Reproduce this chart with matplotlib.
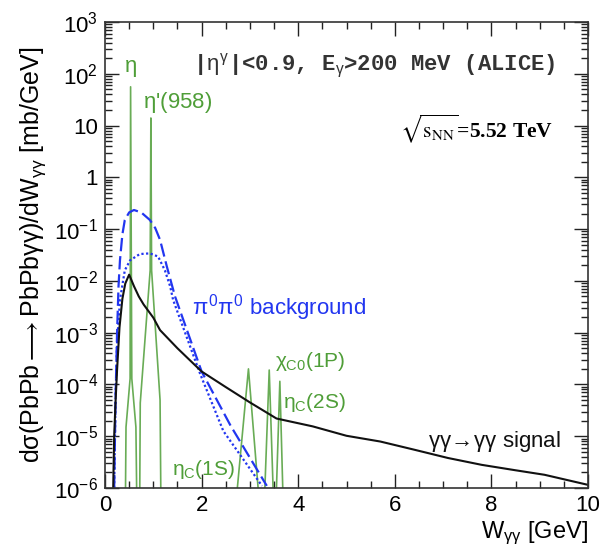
import numpy as np
import matplotlib
matplotlib.use('Agg')
import matplotlib.pyplot as plt
from matplotlib.ticker import FixedLocator, FixedFormatter, MultipleLocator, LogLocator, NullFormatter

# gamma gamma -> gamma gamma signal (black)
signal_w = [0.17, 0.19, 0.22, 0.25, 0.3, 0.36, 0.42, 0.5, 0.6, 0.7, 0.8, 1.0, 1.14, 1.5, 2.0, 2.5,
            3.0, 3.55, 4.3, 5.0, 5.7, 6.4, 7.1, 7.8, 8.5, 9.1, 10.0]
signal_y = [1e-6, 1e-5, 5e-5, 1.9e-4, 1.26e-3, 4.5e-3, 8.9e-3, 1.32e-2, 7.9e-3, 5.0e-3, 3.5e-3,
            1.95e-3, 1.12e-3, 5.0e-4, 1.78e-4, 8.9e-5, 4.5e-5, 2.2e-5, 1.55e-5, 1.02e-5, 7.9e-6,
            5.5e-6, 3.8e-6, 2.8e-6, 2.2e-6, 1.8e-6, 1.15e-6]

# pi0 pi0 background, dashed and dotted
bkg_dash_w = [0.19, 0.22, 0.25, 0.28, 0.31, 0.36, 0.41, 0.5, 0.6, 0.75, 0.93, 1.04, 1.14, 1.28,
              1.45, 2.0, 2.6, 3.35]
bkg_dash_y = [1e-6, 6.3e-5, 1e-3, 7.9e-3, 2.5e-2, 7.9e-2, 0.15, 0.21, 0.234, 0.21, 0.15, 0.105,
              0.062, 0.019, 5.0e-3, 1.78e-4, 1.6e-5, 1.1e-6]
bkg_dot_w = [0.19, 0.22, 0.25, 0.31, 0.41, 0.52, 0.72, 0.93, 1.10, 1.24, 1.35, 1.41, 1.97, 2.45, 3.25]
bkg_dot_y = [1e-6, 6.3e-5, 6.3e-4, 4.3e-3, 1.6e-2, 2.5e-2, 3.3e-2, 3.4e-2, 2.95e-2, 1.6e-2,
             7.8e-3, 4.3e-3, 1.6e-4, 1.26e-5, 1.1e-6]

# resonances (green spikes)
eta_w = [0.425, 0.435, 0.52, 0.53, 0.555, 0.64, 0.655]
eta_y = [1e-6, 1.5e-5, 1.3e-4, 56, 1.3e-4, 1.5e-5, 1e-6]
etap_w = [0.72, 0.73, 0.935, 0.95, 0.965, 1.14, 1.155]
etap_y = [1e-6, 4.4e-5, 1.6e-2, 14, 1.6e-2, 5e-5, 1e-6]
etac1s_w = [2.74, 2.97, 3.17]
etac1s_y = [1e-6, 2e-4, 1e-6]
chic0_w = [3.31, 3.40, 3.48]
chic0_y = [1e-6, 1.9e-4, 1e-6]
etac2s_w = [3.55, 3.62, 3.68]
etac2s_y = [1e-6, 1.15e-4, 1e-6]

ytick_vals = [1e-6, 1e-5, 1e-4, 1e-3, 1e-2, 1e-1, 1, 10, 1e2, 1e3]
ytick_labels = ['$10^{-6}$', '$10^{-5}$', '$10^{-4}$', '$10^{-3}$', '$10^{-2}$', '$10^{-1}$',
                '1', '10', '$10^{2}$', '$10^{3}$']

GREEN = '#4f9e38'
BLUE = '#2236f0'


def make_plot():
    plt.rcParams['font.family'] = ['Liberation Sans', 'DejaVu Sans']
    plt.rcParams['mathtext.fontset'] = 'custom'
    plt.rcParams['mathtext.rm'] = 'Liberation Sans'
    plt.rcParams['mathtext.it'] = 'Liberation Sans'  # greek letters upright, like the original
    plt.rcParams['mathtext.bf'] = 'Liberation Sans:bold'

    fig = plt.figure(figsize=(6.01, 5.49), dpi=100)
    ax = fig.add_axes([0.1747, 0.1111, 0.8037, 0.8488])

    # green resonance spikes
    for w, y in [(eta_w, eta_y), (etap_w, etap_y), (etac1s_w, etac1s_y),
                 (chic0_w, chic0_y), (etac2s_w, etac2s_y)]:
        ax.plot(w, y, color=GREEN, lw=1.2, alpha=0.85)

    # background
    ax.plot(bkg_dash_w, bkg_dash_y, color=BLUE, lw=1.6, dashes=(6, 2.2))
    ax.plot(bkg_dot_w, bkg_dot_y, color=BLUE, lw=1.6, dashes=(1, 1.1))

    # signal
    ax.plot(signal_w, signal_y, color='#111111', lw=1.5)

    ax.set_yscale('log')
    ax.set_xlim(0, 10)
    ax.set_ylim(1e-6, 1e3)

    ax.xaxis.set_major_locator(MultipleLocator(2))
    ax.xaxis.set_minor_locator(MultipleLocator(0.5))
    ax.yaxis.set_major_locator(FixedLocator(ytick_vals))
    ax.yaxis.set_major_formatter(FixedFormatter(ytick_labels))
    ax.yaxis.set_minor_locator(LogLocator(base=10, subs=np.arange(2, 10), numticks=20))
    ax.yaxis.set_minor_formatter(NullFormatter())

    ax.tick_params(which='both', direction='in', top=True, right=True, width=1.0, color='#222222')
    ax.tick_params(which='major', length=10, labelsize=16, pad=5)
    ax.tick_params(which='minor', length=5)
    for sp in ax.spines.values():
        sp.set_linewidth(1.2)
        sp.set_color('#333333')

    # labels
    ax.set_ylabel(r'd$\sigma$(PbPb$\longrightarrow$PbPb$\gamma\gamma$)/dW$_{\gamma\gamma}$ [mb/GeV]',
                  fontsize=18, labelpad=4)
    ax.set_xlabel(r'W$_{\gamma\gamma}$ [GeV]', fontsize=17, loc='right')
    ax.xaxis.set_label_coords(1.0, -0.068)

    # annotations
    ax.text(0.52, 10**2.11, r'$\eta$', color=GREEN, fontsize=16, ha='center', va='center')
    ax.text(0.79, 10**1.44, r"$\eta$'(958)", color=GREEN, fontsize=16, ha='left', va='center')
    ax.text(1.82, 10**2.15, r'|$\eta^{\gamma}$|<0.9, E$_{\gamma}$>200 MeV (ALICE)',
            family='Liberation Mono', fontweight='bold', color='#333333', fontsize=16,
            ha='left', va='center')
    ax.text(6.1, 10**0.95, r'$\sqrt{\mathrm{s}_{\mathrm{NN}}}$=5.52 TeV', family='Liberation Serif',
            fontweight='bold', math_fontfamily='stix', fontsize=15.5, ha='left', va='center')
    ax.text(1.8, 10**-2.52, r'$\pi^{0}\pi^{0}$ background', color=BLUE, fontsize=16,
            ha='left', va='center')
    ax.text(3.52, 10**-3.56, r'$\chi_{\mathrm{C0}}$(1P)', color=GREEN, fontsize=15,
            ha='left', va='center')
    ax.text(3.69, 10**-4.34, r'$\eta_{\mathrm{C}}$(2S)', color=GREEN, fontsize=15,
            ha='left', va='center')
    ax.text(1.39, 10**-5.65, r'$\eta_{\mathrm{C}}$(1S)', color=GREEN, fontsize=15,
            ha='left', va='center')
    ax.text(6.69, 10**-5.11, r'$\gamma\gamma\!\rightarrow\!\gamma\gamma$ signal', color='#111111',
            fontsize=16, ha='left', va='center')

    fig.savefig('out.png', dpi=100)


if __name__ == '__main__':
    make_plot()
